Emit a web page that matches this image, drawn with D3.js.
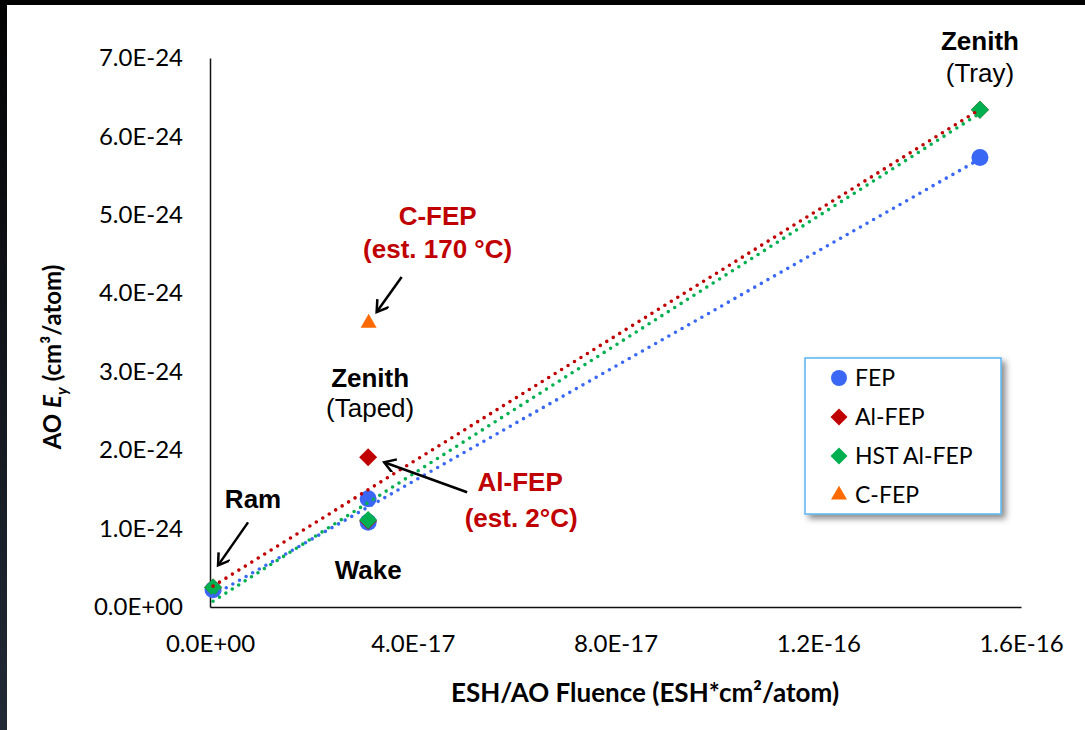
<!DOCTYPE html>
<meta charset="utf-8">
<script src="https://d3js.org/d3.v7.min.js"></script>
<style>
  body { margin: 0; background: #fff; }
  svg { display: block; }
  .tick text { font-family: Lato, "Open Sans", sans-serif; font-size: 24px; fill: #000; }
  .note { font-family: "Liberation Sans", Arial, sans-serif; font-size: 26px; text-anchor: middle; }
  .axis-title { font-family: Lato, "Open Sans", sans-serif; font-size: 24px; font-weight: bold; }
  .legend text { font-family: Lato, "Open Sans", sans-serif; font-size: 23px; }
</style>
<div id="chart"></div>
<script>
  // exposure sites, same order as the value arrays
  const sites = ["Ram", "Wake", "Zenith (Taped)", "Zenith (Tray)"];
  const fluence = [6e-19, 3.12e-17, 3.12e-17, 1.519e-16];
  const fepEy = [0.22e-24, 1.08e-24, 1.38e-24, 5.73e-24];
  const alFepEy = [0.25e-24, 1.10e-24, 1.91e-24, 6.34e-24];
  const hstAlFepEy = [0.25e-24, 1.11e-24, null, 6.34e-24];
  const cFepFluence = [3.13e-17];
  const cFepEy = [3.62e-24];

  const xTicks = [0, 4e-17, 8e-17, 1.2e-16, 1.6e-16];
  const yTicks = [0, 1e-24, 2e-24, 3e-24, 4e-24, 5e-24, 6e-24, 7e-24];

  const series = [
    {name: "FEP", xs: fluence, ys: fepEy, color: "#3a68f5", shape: "circle"},
    {name: "Al-FEP", xs: fluence, ys: alFepEy, color: "#c00000", shape: "diamond"},
    {name: "HST Al-FEP", xs: fluence, ys: hstAlFepEy, color: "#00b050", shape: "diamond"},
    {name: "C-FEP", xs: cFepFluence, ys: cFepEy, color: "#ff6a00", shape: "triangle"}
  ];

  const width = 1085, height = 730;

  const svg = d3.select("#chart")
    .append("svg")
      .attr("width", width)
      .attr("height", height);

  // dark slide edge at top and left
  const grad = svg.append("defs").append("linearGradient")
      .attr("id", "edge").attr("x1", 0).attr("y1", 0).attr("x2", 0).attr("y2", 1);
  grad.append("stop").attr("offset", "0%").attr("stop-color", "#030303");
  grad.append("stop").attr("offset", "100%").attr("stop-color", "#222a36");
  svg.append("rect").attr("width", width).attr("height", 5).attr("fill", "#030303");
  svg.append("rect").attr("width", 7).attr("height", height).attr("fill", "url(#edge)");

  const defs = svg.select("defs");
  const shadow = defs.append("filter").attr("id", "shadow")
      .attr("x", "-10%").attr("y", "-10%").attr("width", "130%").attr("height", "130%");
  shadow.append("feDropShadow")
      .attr("dx", 4).attr("dy", 4).attr("stdDeviation", 3)
      .attr("flood-color", "#000").attr("flood-opacity", 0.45);

  defs.append("marker")
      .attr("id", "arrow")
      .attr("markerUnits", "userSpaceOnUse")
      .attr("markerWidth", 20).attr("markerHeight", 20)
      .attr("refX", 12).attr("refY", 7)
      .attr("orient", "auto")
    .append("path")
      .attr("d", "M1,0 L12,7 L1,14")
      .attr("fill", "none")
      .attr("stroke", "#000")
      .attr("stroke-width", 2.5);

  // scales
  const x = d3.scaleLinear().domain([0, 1.6e-16]).range([210, 1021]);
  const y = d3.scaleLinear().domain([0, 7e-24]).range([607, 58]);

  // Excel style scientific labels, e.g. 7.0E-24
  function sci(v) {
    if (v === 0) return "0.0E+00";
    const e = Math.floor(Math.log10(Math.abs(v)) + 1e-9);
    const m = v / Math.pow(10, e);
    const sign = e < 0 ? "-" : "+";
    return m.toFixed(1) + "E" + sign + String(Math.abs(e)).padStart(2, "0");
  }

  // axes
  svg.append("g")
      .attr("transform", `translate(0, ${y(0)})`)
      .call(d3.axisBottom(x).tickValues(xTicks).tickFormat(sci).tickSize(0).tickPadding(28))
      .call(g => g.select(".domain").attr("stroke", "#111").attr("stroke-width", 1.5));

  svg.append("g")
      .attr("transform", `translate(${x(0)}, 0)`)
      .call(d3.axisLeft(y).tickValues(yTicks).tickFormat(sci).tickSize(0).tickPadding(27))
      .call(g => g.select(".domain").attr("stroke", "#111").attr("stroke-width", 1.5));

  // axis titles
  svg.append("text")
      .attr("class", "axis-title")
      .attr("x", 645).attr("y", 702)
      .style("font-size", "26px")
      .attr("text-anchor", "middle")
      .text("ESH/AO Fluence (ESH*cm\u00b2/atom)");

  const yTitle = svg.append("text")
      .attr("class", "axis-title")
      .attr("transform", "translate(61, 357) rotate(-90)")
      .attr("text-anchor", "middle");
  yTitle.append("tspan").text("AO ");
  yTitle.append("tspan").attr("font-style", "italic").text("E");
  yTitle.append("tspan").attr("font-style", "italic").style("font-size", "16px").attr("dy", 6).text("y");
  yTitle.append("tspan").attr("dy", -6).text(" (cm\u00b3/atom)");

  // marker shapes
  function symbolPath(shape, size) {
    if (shape === "circle") return d3.symbol(d3.symbolCircle, Math.PI * size * size / 4)();
    if (shape === "triangle") return d3.symbol(d3.symbolTriangle, Math.sqrt(3) / 4 * size * size)();
    const side = size / Math.SQRT2;
    return d3.symbol(d3.symbolSquare, side * side)();
  }
  const markerSize = {circle: 17, diamond: 18, triangle: 16};

  // points
  series.forEach(s => {
    const pts = s.xs.map((xv, i) => ({x: xv, y: s.ys[i]})).filter(d => d.y != null);
    svg.append("g")
      .selectAll("path")
      .data(pts)
      .join("path")
        .attr("d", symbolPath(s.shape, markerSize[s.shape]))
        .attr("transform", d => `translate(${x(d.x)}, ${y(d.y)})` + (s.shape === "diamond" ? " rotate(45)" : ""))
        .attr("fill", s.color);
  });

  // linear trendlines (least squares) across each series' x range
  series.forEach(s => {
    const pts = s.xs.map((xv, i) => ({x: xv, y: s.ys[i]})).filter(d => d.y != null);
    if (pts.length < 2) return;
    const mx = d3.mean(pts, d => d.x), my = d3.mean(pts, d => d.y);
    const sxy = d3.sum(pts, d => (d.x - mx) * (d.y - my));
    const sxx = d3.sum(pts, d => (d.x - mx) * (d.x - mx));
    const slope = sxy / sxx, icpt = my - slope * mx;
    const ext = d3.extent(pts, d => d.x);
    svg.append("path")
      .datum(ext.map(xv => ({x: xv, y: icpt + slope * xv})))
      .attr("d", d3.line().x(d => x(d.x)).y(d => y(d.y)))
      .attr("fill", "none")
      .attr("stroke", s.color)
      .attr("stroke-width", 3.6)
      .attr("stroke-linecap", "round")
      .attr("stroke-dasharray", "0 7.6");
  });

  // annotations anchored on the data points
  const ram = [x(fluence[0]), y(alFepEy[0])];
  const wake = [x(fluence[1]), y(hstAlFepEy[1])];
  const taped = [x(fluence[2]), y(alFepEy[2])];
  const tray = [x(fluence[3]), y(hstAlFepEy[3])];
  const cfep = [x(cFepFluence[0]), y(cFepEy[0])];

  function note(px, py, str, color, bold) {
    svg.append("text")
      .attr("class", "note")
      .attr("x", px).attr("y", py)
      .attr("fill", color)
      .attr("font-weight", bold ? "bold" : "normal")
      .text(str);
  }
  function arrow(x1, y1, x2, y2) {
    svg.append("line")
      .attr("x1", x1).attr("y1", y1).attr("x2", x2).attr("y2", y2)
      .attr("stroke", "#000").attr("stroke-width", 2.5)
      .attr("marker-end", "url(#arrow)");
  }

  note(tray[0], 50, "Zenith", "#000", true);
  note(tray[0], 82, "(Tray)", "#000", false);

  note(cfep[0] + 69, 225, "C-FEP", "#c00000", true);
  note(cfep[0] + 69, 258, "(est. 170 \u00b0C)", "#c00000", true);
  arrow(cfep[0] + 33, cfep[1] - 46, cfep[0] + 8, cfep[1] - 11);

  note(taped[0] + 2, 387, "Zenith", "#000", true);
  note(taped[0] + 2, 417, "(Taped)", "#000", false);

  note(taped[0] + 152, 491, "Al-FEP", "#c00000", true);
  note(taped[0] + 153, 527, "(est. 2\u00b0C)", "#c00000", true);
  arrow(taped[0] + 99, taped[1] + 35, taped[0] + 16, taped[1] + 5);

  note(ram[0] + 40, 508, "Ram", "#000", true);
  arrow(ram[0] + 35, ram[1] - 65, ram[0] + 5, ram[1] - 22);

  note(wake[0], 579, "Wake", "#000", true);

  // legend
  const legend = svg.append("g").attr("class", "legend");
  legend.append("rect")
      .attr("x", 805).attr("y", 358)
      .attr("width", 196).attr("height", 156)
      .attr("fill", "#fff")
      .attr("stroke", "#5ab4ef")
      .attr("stroke-width", 1.5)
      .attr("filter", "url(#shadow)");
  const legendSize = {circle: 16, diamond: 17, triangle: 16};
  const rows = legend.selectAll("g.row")
    .data(series)
    .join("g")
      .attr("class", "row")
      .attr("transform", (d, i) => `translate(839, ${378 + i * 39})`);
  rows.append("path")
      .attr("d", d => symbolPath(d.shape, legendSize[d.shape]))
      .attr("transform", d => d.shape === "diamond" ? "rotate(45)" : "")
      .attr("fill", d => d.color);
  rows.append("text")
      .attr("x", 16)
      .attr("dy", "0.35em")
      .text(d => d.name);
</script>
